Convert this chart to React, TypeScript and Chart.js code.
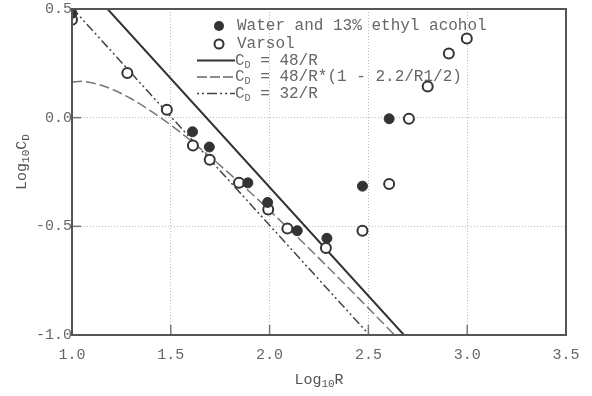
import React, { useEffect, useRef } from "react";
import { Chart, registerables } from "chart.js";

Chart.register(...registerables);

// Measured points: Water and 13% ethyl alcohol (filled)
const waterX = [1.0, 1.61, 1.695, 1.89, 1.99, 2.14, 2.29, 2.47, 2.605];
const waterY = [0.48, -0.065, -0.135, -0.3, -0.39, -0.52, -0.555, -0.315, -0.005];

// Measured points: Varsol (open)
const varsolX = [1.0, 1.28, 1.48, 1.612, 1.697, 1.845, 1.993, 2.09, 2.285, 2.47, 2.605, 2.705, 2.8, 2.907, 2.998];
const varsolY = [0.45, 0.205, 0.036, -0.128, -0.194, -0.3, -0.423, -0.51, -0.6, -0.52, -0.305, -0.005, 0.143, 0.295, 0.364];

// C_D = 48/R (straight line in log-log)
const line48X = [1.18, 2.68];
const line48Y = [0.5, -1.0];

// C_D = 48/R*(1 - 2.2/R^1/2) curve
const curveX = [1.0, 1.05, 1.1, 1.2, 1.3, 1.4, 1.5, 1.6, 1.7, 1.8, 1.9, 2.0, 2.2, 2.4, 2.6, 2.63];
const curveY = [0.164, 0.167, 0.161, 0.132, 0.087, 0.03, -0.034, -0.105, -0.181, -0.26, -0.342, -0.427, -0.602, -0.784, -0.97, -0.998];

// C_D = 32/R
const line32X = [1.0, 2.505];
const line32Y = [0.505, -1.0];

const xTickValues = [1.0, 1.5, 2.0, 2.5, 3.0, 3.5];
const yTickValues = [-1.0, -0.5, 0.0, 0.5];

const legendWater = "Water and 13% ethyl acohol";
const legendVarsol = "Varsol";
const legend48 = " = 48/R";
const legendCurve = " = 48/R*(1 - 2.2/R1/2)";
const legend32 = " = 32/R";

const FONT = '"Liberation Mono", "DejaVu Sans Mono", monospace';

const toPts = (xs: number[], ys: number[]) => xs.map((x, i) => ({ x, y: ys[i] }));

type Part = { t: string; sub?: boolean };

function drawParts(ctx: CanvasRenderingContext2D, parts: Part[], x: number, y: number, size: number, subSize: number) {
  let cx = x;
  for (const p of parts) {
    ctx.font = `${p.sub ? subSize : size}px ${FONT}`;
    ctx.fillText(p.t, cx, p.sub ? y + size * 0.3 : y);
    cx += ctx.measureText(p.t).width;
  }
  return cx - x;
}

function measureParts(ctx: CanvasRenderingContext2D, parts: Part[], size: number, subSize: number) {
  let w = 0;
  for (const p of parts) {
    ctx.font = `${p.sub ? subSize : size}px ${FONT}`;
    w += ctx.measureText(p.t).width;
  }
  return w;
}

const decorPlugin = {
  id: "decor",
  afterDraw(chart: any) {
    const { ctx, chartArea } = chart;
    const { left, right, top, bottom } = chartArea;
    const xs = chart.scales.x;
    const ys = chart.scales.y;
    ctx.save();
    // inner tick marks
    ctx.strokeStyle = "#777";
    ctx.lineWidth = 1.5;
    ctx.setLineDash([]);
    for (const v of xTickValues) {
      const px = xs.getPixelForValue(v);
      if (px <= left + 1 || px >= right - 1) continue;
      ctx.beginPath();
      ctx.moveTo(px, bottom);
      ctx.lineTo(px, bottom - 10);
      ctx.stroke();
    }
    for (const v of yTickValues) {
      const py = ys.getPixelForValue(v);
      if (py <= top + 1 || py >= bottom - 1) continue;
      ctx.beginPath();
      ctx.moveTo(left, py);
      ctx.lineTo(left + 9, py);
      ctx.stroke();
    }
    // frame
    ctx.strokeStyle = "#555";
    ctx.lineWidth = 2;
    ctx.strokeRect(left, top, right - left, bottom - top);

    // legend
    const lx0 = 197;
    const lx1 = 235;
    const cxm = 219;
    const tx = 237;
    const rows = [26, 44, 60.5, 77, 93.5];
    ctx.textBaseline = "middle";
    ctx.textAlign = "left";
    // filled
    ctx.fillStyle = "#333";
    ctx.beginPath();
    ctx.arc(cxm, rows[0], 5, 0, Math.PI * 2);
    ctx.fill();
    // open
    ctx.strokeStyle = "#333";
    ctx.lineWidth = 2;
    ctx.beginPath();
    ctx.arc(cxm, rows[1], 4.5, 0, Math.PI * 2);
    ctx.fillStyle = "#fff";
    ctx.fill();
    ctx.stroke();
    // lines
    const lineStyle = (y: number, color: string, w: number, dash: number[]) => {
      ctx.strokeStyle = color;
      ctx.lineWidth = w;
      ctx.setLineDash(dash);
      ctx.beginPath();
      ctx.moveTo(lx0, y);
      ctx.lineTo(lx1, y);
      ctx.stroke();
      ctx.setLineDash([]);
    };
    lineStyle(rows[2], "#333", 2, []);
    lineStyle(rows[3], "#666", 1.5, [10, 3]);
    lineStyle(rows[4], "#444", 1.5, [2, 3, 2, 3, 10, 3]);

    ctx.fillStyle = "#666";
    ctx.font = `16px ${FONT}`;
    ctx.fillText(legendWater, tx, rows[0]);
    ctx.fillText(legendVarsol, tx, rows[1]);
    drawParts(ctx, [{ t: "C" }, { t: "D", sub: true }, { t: legend48 }], lx1, rows[2], 16, 10);
    drawParts(ctx, [{ t: "C" }, { t: "D", sub: true }, { t: legendCurve }], lx1, rows[3], 16, 10);
    drawParts(ctx, [{ t: "C" }, { t: "D", sub: true }, { t: legend32 }], lx1, rows[4], 16, 10);

    // axis titles
    ctx.fillStyle = "#555";
    const xParts: Part[] = [{ t: "Log" }, { t: "10", sub: true }, { t: "R" }];
    const xw = measureParts(ctx, xParts, 15, 11);
    drawParts(ctx, xParts, (left + right) / 2 - xw / 2, 380, 15, 11);

    const yParts: Part[] = [{ t: "Log" }, { t: "10", sub: true }, { t: "C" }, { t: "D", sub: true }];
    const yw = measureParts(ctx, yParts, 15, 11);
    ctx.translate(22, 162);
    ctx.rotate(-Math.PI / 2);
    drawParts(ctx, yParts, -yw / 2, 0, 15, 11);
    ctx.restore();
  },
};

export default function App() {
  const ref = useRef<HTMLCanvasElement | null>(null);

  useEffect(() => {
    if (!ref.current) return;
    const chart = new Chart(ref.current, {
      type: "scatter",
      data: {
        datasets: [
          {
            label: legendWater,
            data: toPts(waterX, waterY),
            pointRadius: 5,
            pointBackgroundColor: "#333",
            pointBorderColor: "#333",
            pointBorderWidth: 1,
            showLine: false,
            order: 0,
          },
          {
            label: legendVarsol,
            data: toPts(varsolX, varsolY),
            pointRadius: 5,
            pointBackgroundColor: "#fff",
            pointBorderColor: "#333",
            pointBorderWidth: 2,
            showLine: false,
            order: 1,
          },
          {
            label: "CD = 48/R",
            data: toPts(line48X, line48Y),
            showLine: true,
            pointRadius: 0,
            borderColor: "#333",
            borderWidth: 2,
            order: 3,
          },
          {
            label: "CD = 48/R*(1 - 2.2/R1/2)",
            data: toPts(curveX, curveY),
            showLine: true,
            pointRadius: 0,
            borderColor: "#777",
            borderWidth: 1.5,
            borderDash: [10, 4],
            cubicInterpolationMode: "monotone",
            order: 4,
          },
          {
            label: "CD = 32/R",
            data: toPts(line32X, line32Y),
            showLine: true,
            pointRadius: 0,
            borderColor: "#444",
            borderWidth: 1.5,
            borderDash: [9, 3, 2, 3, 2, 3],
            order: 5,
          },
        ],
      },
      options: {
        responsive: false,
        animation: false,
        events: [],
        layout: { padding: { left: 0, top: 5, right: 26, bottom: 0 } },
        plugins: {
          legend: { display: false },
          tooltip: { enabled: false },
          title: { display: false },
        },
        scales: {
          x: {
            type: "linear",
            min: 1.0,
            max: 3.5,
            afterFit: (s: any) => {
              s.height = 61;
            },
            ticks: {
              stepSize: 0.5,
              padding: 11,
              color: "#666",
              font: { family: FONT, size: 15 },
              callback: (v: any) => Number(v).toFixed(1),
            },
            grid: { color: "#bbb", lineWidth: 1, drawTicks: false },
            border: { display: false, dash: [1, 2] },
          },
          y: {
            type: "linear",
            min: -1.0,
            max: 0.5,
            afterFit: (s: any) => {
              s.width = 72;
            },
            ticks: {
              stepSize: 0.5,
              padding: 0,
              color: "#666",
              font: { family: FONT, size: 15 },
              callback: (v: any) => Number(v).toFixed(1),
            },
            grid: { color: "#bbb", lineWidth: 1, drawTicks: false },
            border: { display: false, dash: [1, 2] },
          },
        },
      },
      plugins: [decorPlugin],
    } as any);
    return () => chart.destroy();
  }, []);

  return (
    <div style={{ position: "absolute", left: 0, top: 0, width: 592, height: 396, background: "#fff" }}>
      <canvas ref={ref} width={592} height={396} style={{ display: "block" }} />
    </div>
  );
}
